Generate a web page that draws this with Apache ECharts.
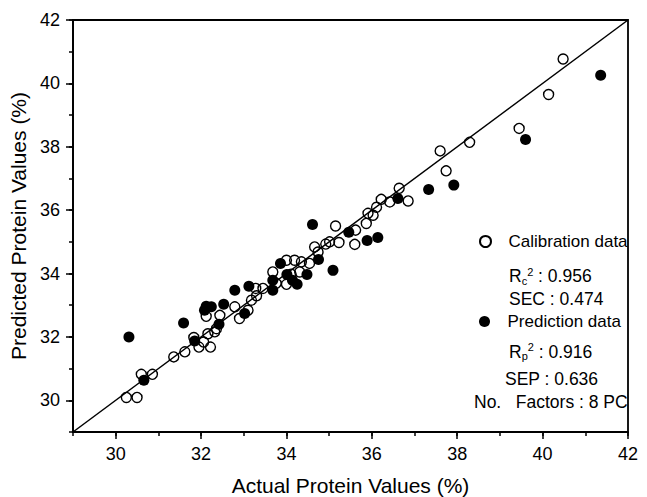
<!DOCTYPE html>
<html>
<head>
<meta charset="utf-8">
<script src="https://cdn.jsdelivr.net/npm/echarts@6/dist/echarts.min.js"></script>
<style>html,body{margin:0;padding:0;background:#fff}#c{width:647px;height:497px}</style>
</head>
<body>
<div id="c"></div>
<script>
const FONT = "'Liberation Sans', Arial, sans-serif";
const xTickValues = [30, 32, 34, 36, 38, 40, 42];
const yTickValues = [30, 32, 34, 36, 38, 40, 42];
const xTickLabels = ['30', '32', '34', '36', '38', '40', '42'];
const yTickLabels = ['30', '32', '34', '36', '38', '40', '42'];
const axisRange = [29, 42];
const lineX = [29, 42];
const lineY = [29, 42];
const calX = [30.25, 30.5, 30.6, 30.86, 31.36, 31.62, 31.83, 31.95, 32.22, 32.06, 32.16, 32.32, 32.12, 32.44, 32.36, 32.79, 32.9, 33.1, 33.18, 33.28, 33.3, 33.45, 33.68, 33.76, 34.0, 34.11, 34.31, 34.0, 34.19, 34.35, 34.54, 34.74, 34.66, 34.92, 35.01, 35.23, 35.6, 35.62, 35.15, 35.87, 36.03, 35.91, 36.11, 36.42, 36.22, 36.85, 36.64, 37.74, 37.6, 38.29, 39.45, 40.14, 40.48];
const calY = [30.09, 30.09, 30.82, 30.82, 31.37, 31.53, 31.98, 31.68, 31.68, 31.84, 32.1, 32.16, 32.65, 32.68, 32.26, 32.95, 32.58, 32.84, 33.16, 33.53, 33.3, 33.53, 34.05, 33.69, 33.66, 33.98, 34.05, 34.42, 34.42, 34.37, 34.32, 34.68, 34.84, 34.93, 35.0, 34.98, 34.92, 35.37, 35.5, 35.58, 35.84, 35.9, 36.09, 36.26, 36.34, 36.29, 36.69, 37.24, 37.87, 38.14, 38.58, 39.65, 40.77];
const predX = [30.31, 30.66, 31.59, 31.85, 32.12, 32.24, 32.08, 32.53, 32.42, 32.79, 33.12, 33.02, 33.68, 33.68, 33.86, 34.01, 34.14, 34.25, 34.48, 34.75, 35.09, 34.61, 35.46, 35.89, 36.14, 36.61, 37.33, 37.92, 39.6, 41.36];
const predY = [32.0, 30.63, 32.44, 31.87, 32.97, 32.95, 32.84, 33.03, 32.4, 33.47, 33.6, 32.74, 33.79, 33.47, 34.32, 33.97, 33.79, 33.66, 33.97, 34.44, 34.1, 35.55, 35.3, 35.04, 35.14, 36.37, 36.65, 36.79, 38.23, 40.26];
const seriesNames = ['Calibration data', 'Prediction data'];
const xName = 'Actual Protein Values (%)';
const yName = 'Predicted Protein Values (%)';
const statLines = [
  {r: 'R', sub: 'c', val: ' : 0.956'},
  {plain: 'SEC : 0.474'},
  {r: 'R', sub: 'p', val: ' : 0.916'},
  {plain: 'SEP : 0.636'},
  {plain: 'No.   Factors : 8 PC'}
];

const zip = (a, b) => a.map((v, i) => [v, b[i]]);
const chart = echarts.init(document.getElementById('c'), null, {renderer: 'svg'});

function labelFmt(ticks, labels) {
  return v => { const i = ticks.indexOf(Math.round(v * 1000) / 1000); return i >= 0 ? labels[i] : ''; };
}
const minorAxisCommon = {
  type: 'value', min: axisRange[0], max: axisRange[1], interval: 1,
  axisLine: {show: true, lineStyle: {color: '#000', width: 1.8}},
  axisTick: {show: true, length: 4, lineStyle: {color: '#000', width: 1.5}},
  splitLine: {show: false}
};
const majorAxisCommon = (ticks) => ({
  type: 'value', min: axisRange[0], max: axisRange[1],
  axisLine: {show: false},
  axisTick: {show: true, length: 7, customValues: ticks, lineStyle: {color: '#000', width: 1.5}},
  axisLabel: {show: false},
  splitLine: {show: false}
});

const stat = [276, 299, 351.5, 378.5, 401.5];
const statX = [509, 509, 509, 505, 474];
const graphics = statLines.map((s, i) => {
  const text = s.plain ? '{n|' + s.plain + '}' : '{n|' + s.r + '}{s|' + s.sub + '}{p|2}{n|' + s.val + '}';
  return {
    type: 'text', x: statX[i], y: stat[i],
    style: {
      text: text, verticalAlign: 'middle', fill: '#000',
      rich: {
        n: {fontSize: 17.5, fontFamily: FONT, fill: '#000', lineHeight: 20},
        s: {fontSize: 11, fontFamily: FONT, fill: '#000', verticalAlign: 'bottom', lineHeight: 14},
        p: {fontSize: 11, fontFamily: FONT, fill: '#000', verticalAlign: 'top', lineHeight: 14}
      }
    }
  };
});

chart.setOption({
  animation: false,
  backgroundColor: '#fff',
  textStyle: {fontFamily: FONT},
  grid: {left: 73, right: 19, top: 20, bottom: 65, show: true, borderColor: '#000', borderWidth: 1.8,
         backgroundColor: 'transparent', containLabel: false, outerBoundsMode: 'none'},
  xAxis: [
    Object.assign({}, minorAxisCommon, {
      position: 'bottom',
      axisLabel: {formatter: labelFmt(xTickValues, xTickLabels), color: '#000', fontSize: 18, fontFamily: FONT, margin: 13},
      name: xName, nameLocation: 'middle', nameGap: 43,
      nameTextStyle: {fontSize: 21, fontFamily: FONT, color: '#000'}
    }),
    Object.assign(majorAxisCommon(xTickValues), {position: 'bottom'})
  ],
  yAxis: [
    Object.assign({}, minorAxisCommon, {
      position: 'left',
      axisLabel: {formatter: labelFmt(yTickValues, yTickLabels), color: '#000', fontSize: 18, fontFamily: FONT, margin: 13},
      name: yName, nameLocation: 'middle', nameGap: 44,
      nameTextStyle: {fontSize: 21, fontFamily: FONT, color: '#000'}
    }),
    Object.assign(majorAxisCommon(yTickValues), {position: 'left'})
  ],
  legend: [
    {data: [seriesNames[0]], left: 479, top: 233, padding: 0, itemWidth: 24, itemHeight: 11,
     textStyle: {fontSize: 17, fontFamily: FONT, color: '#000', padding: [0, 0, 0, 6]}},
    {data: [seriesNames[1]], left: 479, top: 313, padding: 0, itemWidth: 24, itemHeight: 11,
     textStyle: {fontSize: 17, fontFamily: FONT, color: '#000', padding: [0, 0, 0, 6]}}
  ],
  graphic: graphics,
  series: [
    {type: 'line', data: zip(lineX, lineY), symbol: 'none', silent: true,
     lineStyle: {color: '#000', width: 1.5}, z: 1},
    {name: seriesNames[0], type: 'scatter', data: zip(calX, calY), symbol: 'circle', symbolSize: 10,
     itemStyle: {color: 'rgba(255,255,255,0)', borderColor: '#000', borderWidth: 1.4, opacity: 1}, z: 2},
    {name: seriesNames[1], type: 'scatter', data: zip(predX, predY), symbol: 'circle', symbolSize: 11,
     itemStyle: {color: '#000', borderColor: '#000', borderWidth: 0, opacity: 1}, z: 3}
  ]
});
</script>
</body>
</html>
